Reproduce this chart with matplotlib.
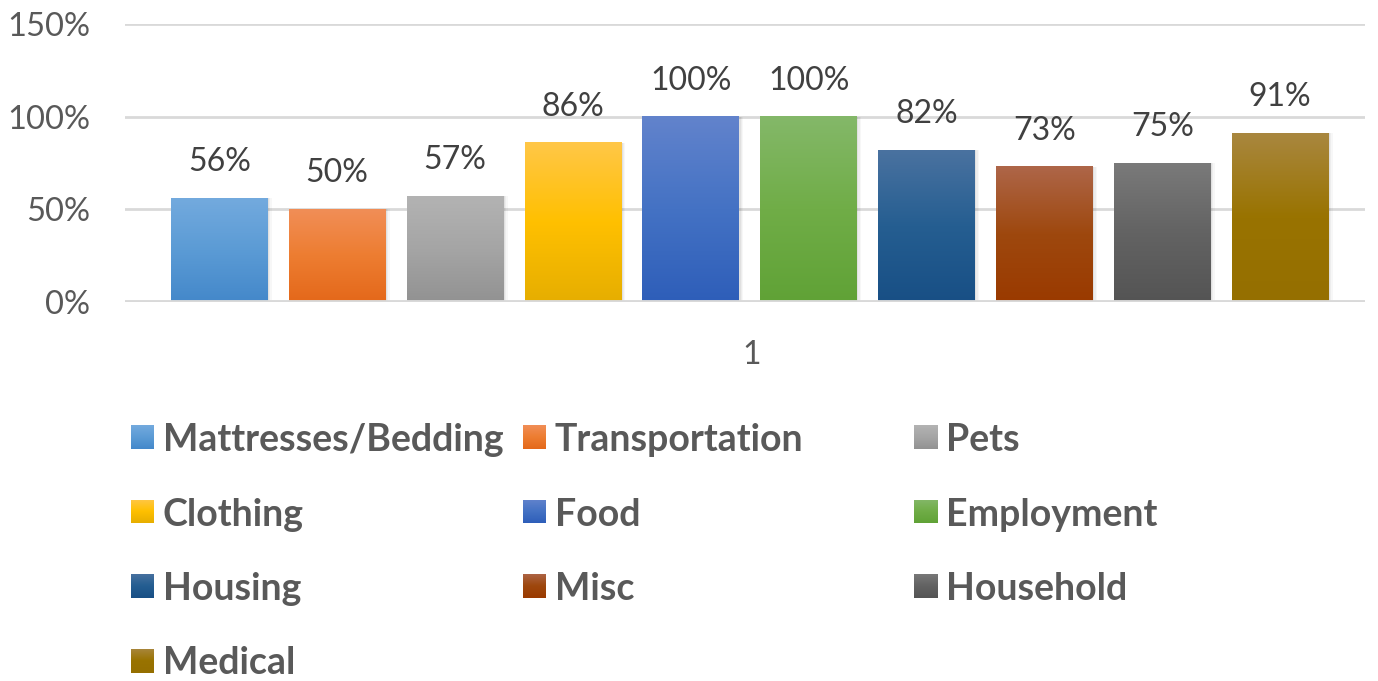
import numpy as np
import matplotlib
matplotlib.use("Agg")
import matplotlib.pyplot as plt
from matplotlib.colors import LinearSegmentedColormap

categories = ["Mattresses/Bedding", "Transportation", "Pets", "Clothing", "Food",
              "Employment", "Housing", "Misc", "Household", "Medical"]
values = [0.56, 0.50, 0.57, 0.86, 1.00, 1.00, 0.82, 0.73, 0.75, 0.91]
x_label = "1"
y_ticks = [0, 0.5, 1.0, 1.5]
y_tick_labels = ["0%", "50%", "100%", "150%"]

# gradient colours: top, middle, bottom
grad_colors = [
    ("#73aade", "#5b9bd5", "#4488ca"),
    ("#f18e57", "#ed7d31", "#e4681a"),
    ("#b3b3b3", "#a5a5a5", "#929292"),
    ("#ffc748", "#ffc000", "#e6ae00"),
    ("#6283cc", "#4472c4", "#2e5eb9"),
    ("#84b869", "#70ad47", "#60a236"),
    ("#4a72a0", "#255e91", "#184f85"),
    ("#ae6649", "#9e480e", "#9a3a00"),
    ("#7a7a7a", "#636363", "#545454"),
    ("#a9873f", "#997300", "#956f00"),
]

FONT = "Lato"
W, H = 1378, 681
fig = plt.figure(figsize=(W / 100, H / 100), dpi=100)
fig.patch.set_facecolor("white")

def fx(px):
    return px / W

def fy(py):
    return 1 - py / H

ax = fig.add_axes([fx(125), fy(302), fx(1365) - fx(125), fy(24) - fy(302)])
ax.set_facecolor("white")

n = len(values)
xs = np.arange(n)
width = 0.82

grad = np.linspace(0, 1, 256).reshape(-1, 1)
for i, (x, v) in enumerate(zip(xs, values)):
    top, mid, bot = grad_colors[i]
    cmap = LinearSegmentedColormap.from_list(f"g{i}", [bot, mid, top])
    # soft shadow
    for k, a in enumerate([0.05, 0.04, 0.03]):
        off = 0.012 * (k + 1)
        ax.bar(x + off, v, width=width, color="black", alpha=a, zorder=2, linewidth=0)
    ax.bar(x, v, width=width, color=mid, zorder=3, linewidth=0)
    ax.imshow(grad, extent=[x - width / 2, x + width / 2, 0, v], origin="lower",
              cmap=cmap, aspect="auto", zorder=4, interpolation="bicubic")
    ax.annotate(f"{int(round(v * 100))}%", xy=(x, v), xytext=(0, 19.5),
                textcoords="offset points", ha="center", va="baseline",
                fontsize=23, color="#404040", family=FONT)

ax.set_xlim(-0.8, n - 1 + 0.72)
ax.set_ylim(0, 1.5)
ax.set_yticks(y_ticks)
ax.set_yticklabels(y_tick_labels, fontsize=23.5, color="#595959", family=FONT)
ax.tick_params(axis="y", length=0, pad=25)
ax.set_xticks([])
for y in y_ticks[1:]:
    ax.axhline(y, color="#d9d9d9", linewidth=2, zorder=1)
ax.axhline(0, color="#d9d9d9", linewidth=3.5, zorder=5)
for s in ax.spines.values():
    s.set_visible(False)

fig.text(fx(752), fy(355), x_label, ha="center", va="center", fontsize=23,
         color="#595959", family=FONT)

# legend, Excel-style row-major 3 columns
for i, name in enumerate(categories):
    r, c = divmod(i, 3)
    px = 131 + c * 391.5
    py = 437 + r * 74.5
    top, mid, bot = grad_colors[i]
    cmap = LinearSegmentedColormap.from_list(f"l{i}", [bot, mid, top])
    sax = fig.add_axes([fx(px), fy(py + 12), fx(23), fy(py - 12) - fy(py + 12)])
    sax.imshow(grad, origin="lower", cmap=cmap, aspect="auto", extent=[0, 1, 0, 1])
    sax.set_axis_off()
    fig.text(fx(px + 32), fy(py), name, ha="left", va="center_baseline", fontsize=27,
             fontweight="bold", color="#595959", family=FONT)

fig.savefig("out.png", dpi=100, facecolor="white")
